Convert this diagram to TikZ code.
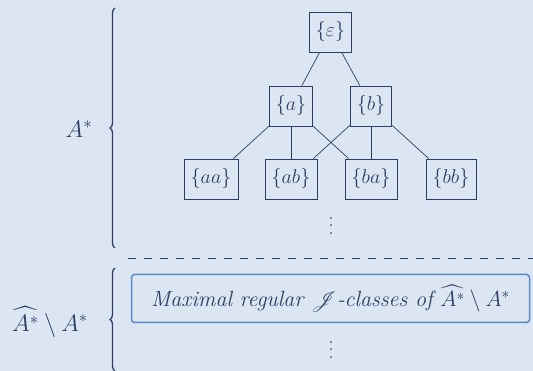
\RequirePackage{fix-cm}
\documentclass[tikz,border=0pt]{standalone}
\usepackage{amsmath,amssymb,mathrsfs}
\usetikzlibrary{decorations.pathreplacing}
\definecolor{bgc}{HTML}{DCE6F2}
\definecolor{ink}{HTML}{2C3E63}
\definecolor{boxc}{HTML}{5A87C9}
\newcommand\myvdots{\vbox{\baselineskip=7.5pt\lineskiplimit=0pt\hbox{.}\hbox{.}\hbox{.}}}
\begin{document}
\begin{tikzpicture}[x=1pt,y=-1pt,
  every node/.style={text=ink,font=\fontsize{20}{24}\selectfont},
  setbox/.style={draw=ink,line width=0.9pt,minimum height=40pt,inner xsep=6.7pt,inner ysep=0pt},
  lab/.style={font=\fontsize{24}{28}\selectfont},
  dotsn/.style={font=\fontsize{22}{24}\selectfont,inner sep=0pt},
  edge/.style={draw=ink,line width=0.7pt},
  bracec/.style={draw=ink,line width=1.3pt,decorate,decoration={brace,amplitude=5pt,aspect=0.5}}]
\fill[bgc] (0,0) rectangle (533,371);
\useasboundingbox (0,0) rectangle (533,371);
\node[setbox] (e) at (330.5,32) {$\{\varepsilon\}$};
\node[setbox] (a) at (291,106) {$\{a\}$};
\node[setbox] (b) at (371,106) {$\{b\}$};
\node[setbox] (aa) at (211,179) {$\{aa\}$};
\node[setbox] (ab) at (291,179) {$\{ab\}$};
\node[setbox] (ba) at (371,179) {$\{ba\}$};
\node[setbox] (bb) at (451,179) {$\{bb\}$};
\node[dotsn] (dots1) at (331,226) {\myvdots};
\draw[edge] (e) -- (a);
\draw[edge] (e) -- (b);
\draw[edge] (a) -- (aa);
\draw[edge] (a) -- (ab);
\draw[edge] (a) -- (ba);
\draw[edge] (b) -- (ab);
\draw[edge] (b) -- (ba);
\draw[edge] (b) -- (bb);
\coordinate (br1b) at (115,248);
\coordinate (br1t) at (115,8);
\draw[bracec] (br1b) -- (br1t);
\node[lab] (lab1) at (79,129) {$A^*$};
\coordinate (dl) at (128,258.5);
\coordinate (dr) at (533,258.5);
\draw[draw=ink,line width=0.7pt,dash pattern=on 8pt off 8pt] (dl) -- (dr);
\coordinate (br2b) at (115,371);
\coordinate (br2t) at (115,268);
\draw[bracec] (br2b) -- (br2t);
\node[draw=boxc,line width=1.5pt,rounded corners=3pt,minimum width=398pt,minimum height=48pt,font=\fontsize{22}{26}\selectfont] (mx) at (330.5,298.5) {\itshape Maximal regular $\mathscr{J}$-classes of $\widehat{A^*}\setminus A^*$};
\node[dotsn] (dots2) at (331,350) {\myvdots};
\node[lab] (lab2) at (50,322) {$\widehat{A^*}\setminus A^*$};
\end{tikzpicture}
\end{document}
